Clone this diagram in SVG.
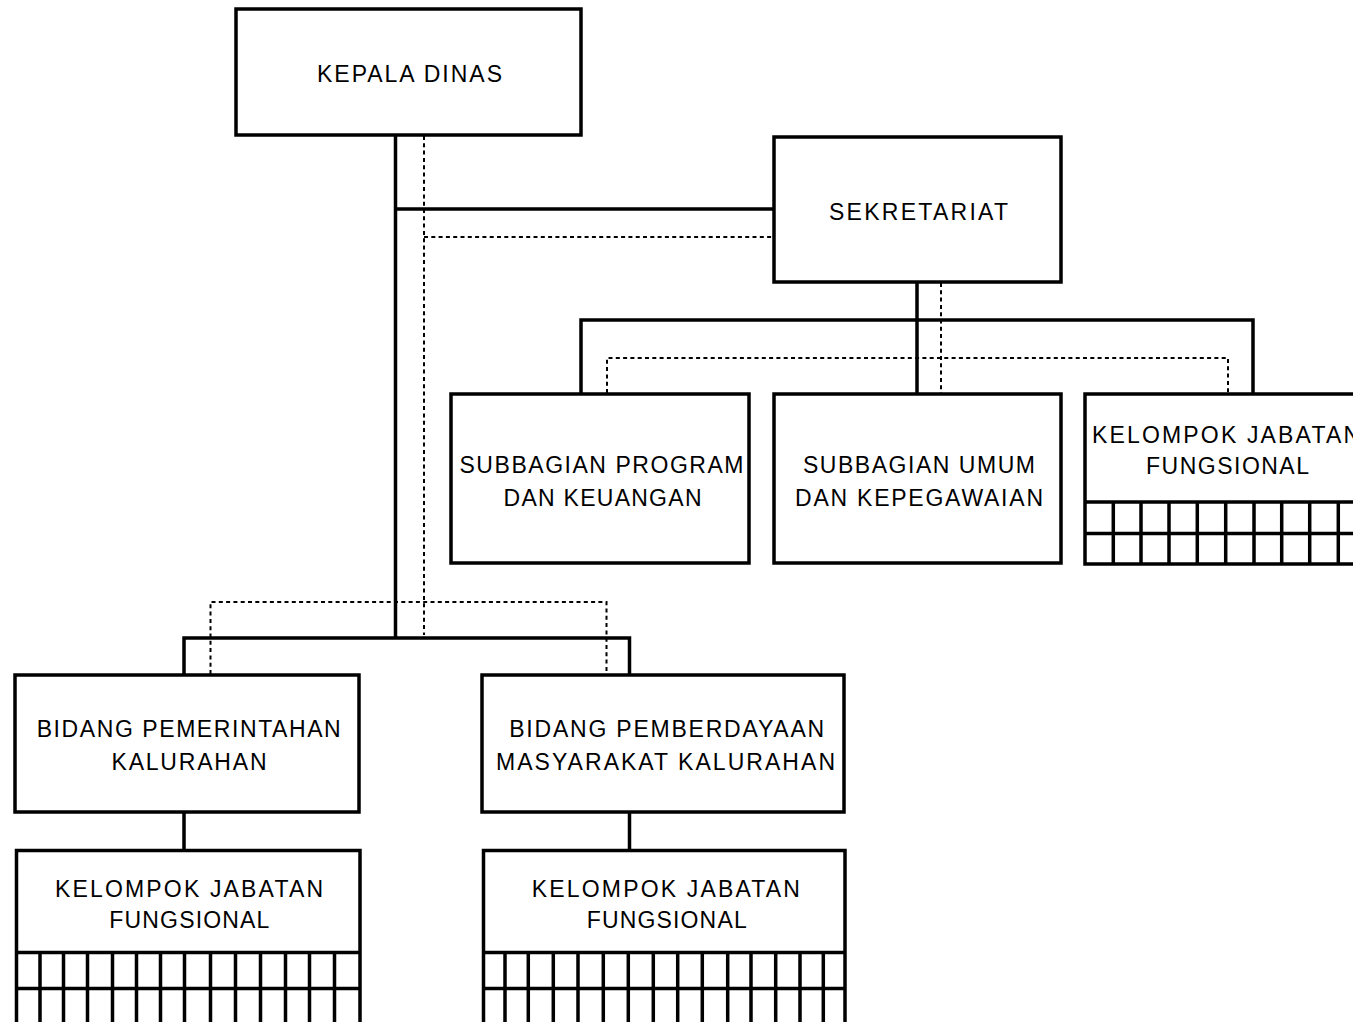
<svg xmlns="http://www.w3.org/2000/svg" width="1353" height="1022" viewBox="0 0 1353 1022">
<style>
.box{fill:#fff;stroke:#000;stroke-width:3.5}
.ln{fill:none;stroke:#000;stroke-width:3.5}
.dot{fill:none;stroke:#000;stroke-width:2;stroke-dasharray:4 3.3}
.t{font-family:"Liberation Sans",Arial,sans-serif;font-size:23px;fill:#000;text-anchor:middle}
</style>
<rect width="1353" height="1022" fill="#fff"/>
<g id="connectors">
<path class="ln" d="M395.5 135V638M184 675V638H629.5V675M395.5 209H774"/>
<path class="ln" d="M917 282V394M581 394V320H1253V394"/>
<path class="ln" d="M184 812V850M629.5 812V850"/>
<path class="dot" d="M424 136V635M424 237H773"/>
<path class="dot" d="M210.5 674V602H606.5V674"/>
<path class="dot" d="M941 283V393M607 393V358H1228V393"/>
</g>
<g id="kepala-dinas">
<rect class="box" x="236" y="9" width="345" height="126"/>
<text class="t" x="409.5" y="82" textLength="185" lengthAdjust="spacing">KEPALA DINAS</text>
</g>
<g id="sekretariat">
<rect class="box" x="774" y="137" width="287" height="145"/>
<text class="t" x="918.5" y="220" textLength="179" lengthAdjust="spacing">SEKRETARIAT</text>
</g>
<g id="subbagian-program">
<rect class="box" x="451" y="394" width="298" height="169"/>
<text class="t" x="601.5" y="473.3" textLength="284" lengthAdjust="spacing">SUBBAGIAN PROGRAM</text>
<text class="t" x="602.5" y="506" textLength="198" lengthAdjust="spacing">DAN KEUANGAN</text>
</g>
<g id="subbagian-umum">
<rect class="box" x="774" y="394" width="287" height="169"/>
<text class="t" x="919" y="473" textLength="232" lengthAdjust="spacing">SUBBAGIAN UMUM</text>
<text class="t" x="919" y="506" textLength="248" lengthAdjust="spacing">DAN KEPEGAWAIAN</text>
</g>
<g id="kelompok-sekretariat">
<rect class="box" x="1085" y="394" width="284" height="170"/>
<path class="ln" d="M1085 502H1369M1085 533.5H1369M1113.3 502V564M1141 502V564M1169 502V564M1197.3 502V564M1225.7 502V564M1254 502V564M1281.7 502V564M1309.7 502V564M1338.3 502V564M1366 502V564"/>
<text class="t" x="1226" y="443.3" textLength="268" lengthAdjust="spacing">KELOMPOK JABATAN</text>
<text class="t" x="1227.5" y="474.3" textLength="163" lengthAdjust="spacing">FUNGSIONAL</text>
</g>
<g id="bidang-pemerintahan">
<rect class="box" x="15" y="675" width="344" height="137"/>
<text class="t" x="188.7" y="737.3" textLength="304" lengthAdjust="spacing">BIDANG PEMERINTAHAN</text>
<text class="t" x="189" y="770" textLength="155" lengthAdjust="spacing">KALURAHAN</text>
</g>
<g id="bidang-pemberdayaan">
<rect class="box" x="482" y="675" width="362" height="137"/>
<text class="t" x="666.7" y="737.3" textLength="315" lengthAdjust="spacing">BIDANG PEMBERDAYAAN</text>
<text class="t" x="665.5" y="770" textLength="339" lengthAdjust="spacing">MASYARAKAT KALURAHAN</text>
</g>
<g id="kelompok-pemerintahan">
<rect class="box" x="16.5" y="850.5" width="343.5" height="180"/>
<path class="ln" d="M16.5 952.5H360M16.5 988.5H360M40 952.5V1030M63.5 952.5V1030M87.5 952.5V1030M112.5 952.5V1030M136.5 952.5V1030M160.5 952.5V1030M184.5 952.5V1030M210.5 952.5V1030M235.5 952.5V1030M260.5 952.5V1030M285.5 952.5V1030M309.5 952.5V1030M334.5 952.5V1030"/>
<text class="t" x="189" y="896.7" textLength="268" lengthAdjust="spacing">KELOMPOK JABATAN</text>
<text class="t" x="189.3" y="928.3" textLength="160" lengthAdjust="spacing">FUNGSIONAL</text>
</g>
<g id="kelompok-pemberdayaan">
<rect class="box" x="483.5" y="850.5" width="361.5" height="180"/>
<path class="ln" d="M483.5 952.5H845M483.5 988.5H845M505 952.5V1030M528.3 952.5V1030M553.3 952.5V1030M578 952.5V1030M603.3 952.5V1030M628.3 952.5V1030M653.3 952.5V1030M677.7 952.5V1030M702.3 952.5V1030M727.7 952.5V1030M751 952.5V1030M775.7 952.5V1030M800 952.5V1030M823.3 952.5V1030"/>
<text class="t" x="665.8" y="896.7" textLength="268" lengthAdjust="spacing">KELOMPOK JABATAN</text>
<text class="t" x="666.7" y="928.3" textLength="160" lengthAdjust="spacing">FUNGSIONAL</text>
</g>
</svg>
